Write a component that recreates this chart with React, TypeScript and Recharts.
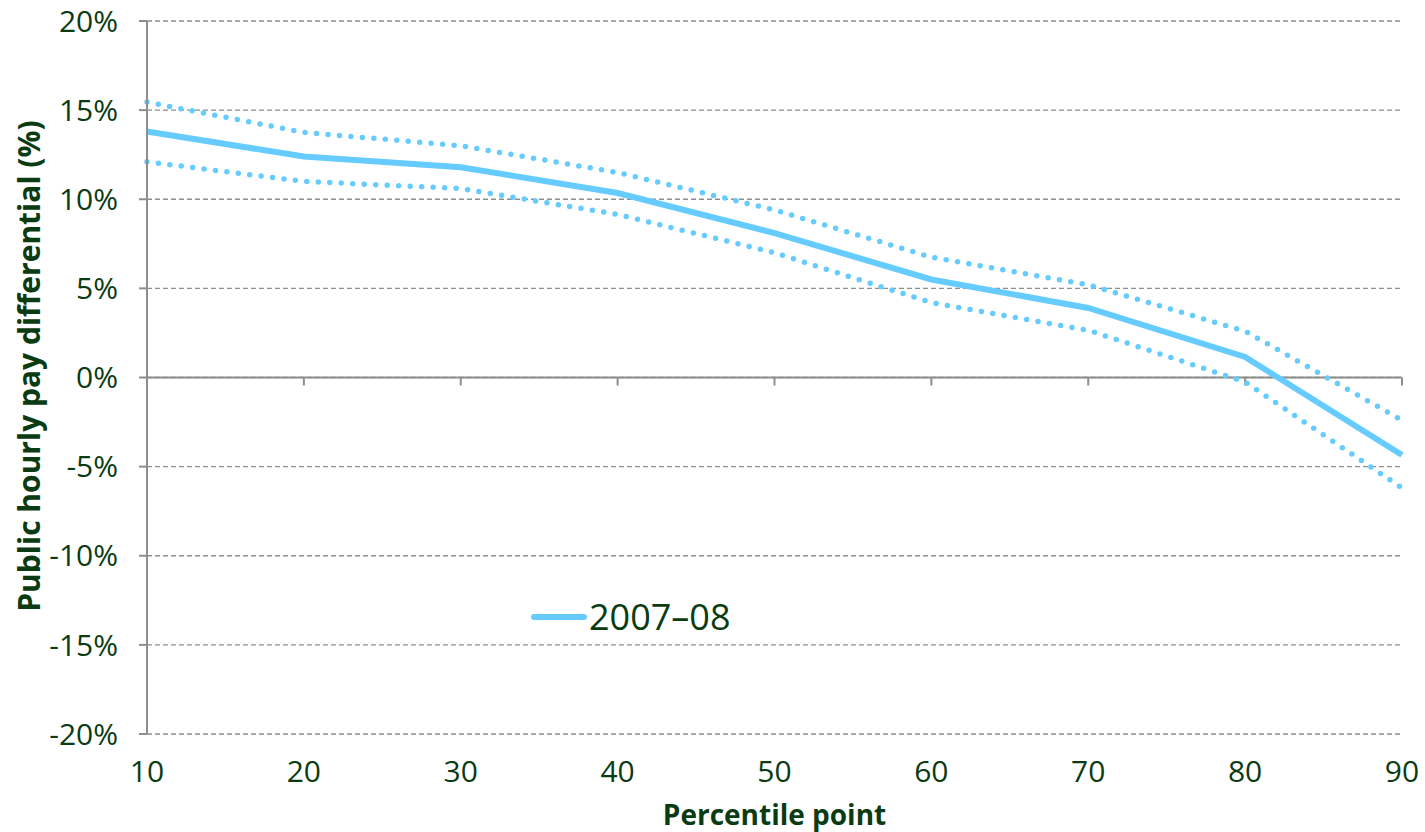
import { LineChart, Line, XAxis, YAxis, CartesianGrid, ReferenceLine } from "recharts";

const percentiles = [10, 20, 30, 40, 50, 60, 70, 80, 90];
const estimate = [13.8, 12.4, 11.8, 10.35, 8.1, 5.5, 3.9, 1.15, -4.35];
const upperBound = [15.45, 13.75, 13.0, 11.5, 9.4, 6.75, 5.2, 2.6, -2.4];
const lowerBound = [12.1, 11.0, 10.6, 9.15, 7.0, 4.2, 2.65, -0.25, -6.2];
const yTicks = [-20, -15, -10, -5, 0, 5, 10, 15, 20];

const data = percentiles.map((p, i) => ({
  p,
  est: estimate[i],
  hi: upperBound[i],
  lo: lowerBound[i],
}));

const GREEN = "#0b3b12";
const BLUE = "#66ccff";
const AXIS = "#8c8f8c";
const FONT = "'Open Sans', sans-serif";

export default function App() {
  return (
    <div style={{ position: "absolute", left: 0, top: 0, width: 1425, height: 832, background: "#fff" }}>
      <LineChart
        width={1425}
        height={832}
        data={data}
        margin={{ top: 21, right: 23, left: 0, bottom: 0 }}
        style={{ fontFamily: FONT }}
      >
        <CartesianGrid vertical={false} stroke={AXIS} strokeDasharray="5 3" strokeWidth={1.3} />
        <XAxis
          dataKey="p"
          type="number"
          domain={[10, 90]}
          ticks={percentiles}
          axisLine={false}
          tickLine={false}
          tickSize={0}
          tickMargin={27}
          height={98}
          tick={{ fontSize: 30, fill: GREEN }}
          label={{ value: "Percentile point", position: "insideBottom", offset: 7, fontSize: 28, fontWeight: 700, fill: GREEN }}
        />
        <YAxis
          type="number"
          domain={[-20, 20]}
          ticks={yTicks}
          width={147}
          interval={0}
          tickFormatter={(v) => `${v}%`}
          axisLine={{ stroke: AXIS, strokeWidth: 2 }}
          tickLine={{ stroke: AXIS, strokeWidth: 2 }}
          tickSize={8}
          tickMargin={21}
          tick={{ fontSize: 30, fill: GREEN }}
          label={{
            content: () => (
              <text
                x={28}
                y={366}
                transform="rotate(-90 28 366)"
                textAnchor="middle"
                dominantBaseline="central"
                fontSize={30}
                fontWeight={700}
                fill={GREEN}
                fontFamily={FONT}
              >
                Public hourly pay differential (%)
              </text>
            ),
          }}
        />
        <ReferenceLine y={0} stroke={AXIS} strokeWidth={2} />
        {percentiles.map((p) => (
          <ReferenceLine
            key={p}
            segment={[
              { x: p, y: 0 },
              { x: p, y: -0.45 },
            ]}
            stroke={AXIS}
            strokeWidth={2}
            ifOverflow="visible"
          />
        ))}
        <Line
          dataKey="hi"
          stroke={BLUE}
          strokeWidth={5.5}
          strokeDasharray="0 11.5"
          strokeLinecap="round"
          dot={false}
          isAnimationActive={false}
        />
        <Line
          dataKey="lo"
          stroke={BLUE}
          strokeWidth={5.5}
          strokeDasharray="0 11.5"
          strokeLinecap="round"
          dot={false}
          isAnimationActive={false}
        />
        <Line
          dataKey="est"
          name="2007–08"
          stroke={BLUE}
          strokeWidth={6}
          dot={false}
          isAnimationActive={false}
        />
      </LineChart>
      <svg
        width={260}
        height={50}
        style={{ position: "absolute", left: 528, top: 595, overflow: "visible" }}
      >
        <line x1={6} y1={22} x2={56} y2={22} stroke={BLUE} strokeWidth={6} strokeLinecap="round" />
        <text x={61} y={35} fontSize={36} fill={GREEN} fontFamily={FONT}>
          2007–08
        </text>
      </svg>
    </div>
  );
}
